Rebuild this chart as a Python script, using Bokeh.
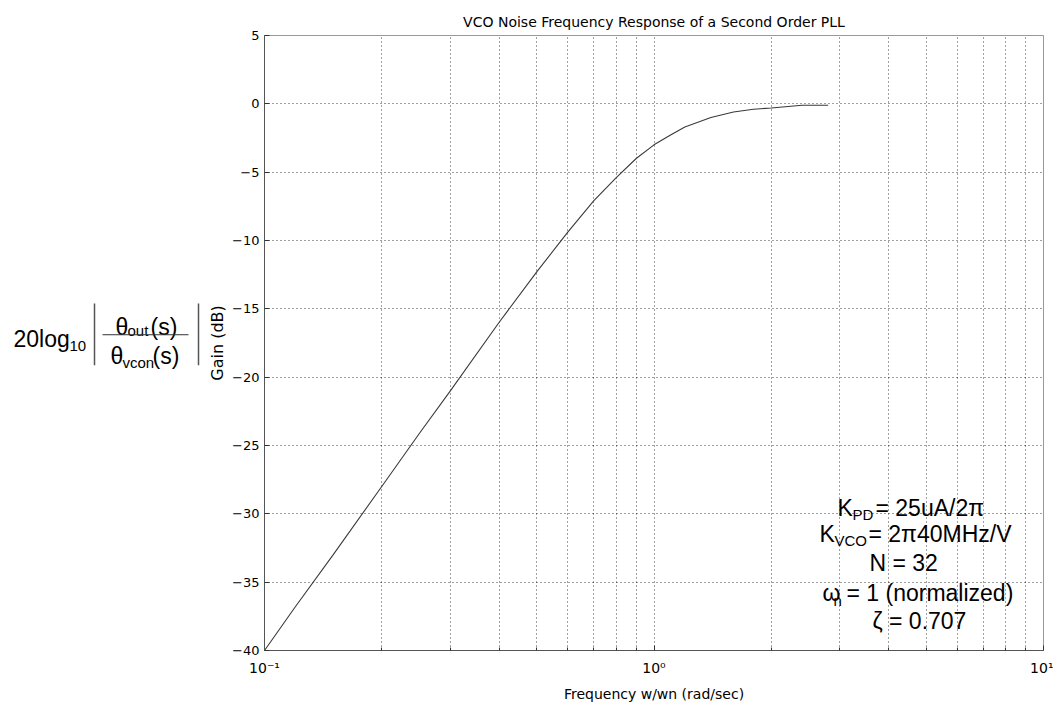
from bokeh.plotting import figure
from bokeh.models import FixedTicker, Range1d, Label, CustomJSTickFormatter
from bokeh.layouts import row
from bokeh.embed import file_html
from bokeh.resources import INLINE
from bokeh.core.properties import value

# ---------------- data ----------------
title_text = "VCO Noise Frequency Response of a Second Order PLL"
x_label = "Frequency w/wn (rad/sec)"
y_label = "Gain (dB)"

freq = [0.1, 0.12, 0.15, 0.2, 0.25, 0.3, 0.4, 0.5, 0.6, 0.7, 0.8, 0.9,
        1.0, 1.1, 1.2, 1.4, 1.6, 1.8, 2.0, 2.4, 2.8]
gain = [-40.0, -36.8, -33.0, -28.0, -24.1, -21.0, -16.0, -12.3, -9.4, -7.1, -5.4, -4.0,
        -3.0, -2.3, -1.7, -1.0, -0.6, -0.4, -0.3, -0.1, -0.1]

y_ticks = [-40, -35, -30, -25, -20, -15, -10, -5, 0, 5]
x_major = [0.1, 1, 10]
x_minor = [0.2, 0.3, 0.4, 0.5, 0.6, 0.7, 0.8, 0.9, 2, 3, 4, 5, 6, 7, 8, 9]
x_tick_labels = ["10\u207b\u00b9", "10\u2070", "10\u00b9"]

# ---------------- layout constants ----------------
LEFT_W = 205
MAIN_W = 848
H = 707
FRAME_L = 263   # page x of frame left
FRAME_B = 650   # page y of frame bottom

SMALL_FONT = "DejaVu Sans"
BIG_FONT = "Liberation Sans"

# ---------------- main figure ----------------
p = figure(width=MAIN_W, height=H, x_axis_type="log",
           x_range=Range1d(0.1, 10), y_range=Range1d(-40, 5),
           output_backend="svg", toolbar_location=None,
           min_border_left=58, min_border_right=10,
           min_border_top=35, min_border_bottom=57,
           title=title_text)
p.background_fill_color = "white"
p.border_fill_color = "white"
p.outline_line_color = "#999999"

p.title.text_font = SMALL_FONT
p.title.text_font_size = "14px"
p.title.text_font_style = "normal"
p.title.align = "center"
p.title.text_color = "black"
p.title.standoff = 12

p.line(freq, gain, line_color="#3a3a3a", line_width=1.1)

p.xaxis.ticker = FixedTicker(ticks=x_major, minor_ticks=x_minor)
p.yaxis.ticker = FixedTicker(ticks=y_ticks)

for g in (p.xgrid, p.ygrid):
    g.grid_line_color = "black"
    g.grid_line_dash = "1 3"
    g.grid_line_alpha = 0.75
    g.grid_line_width = 1
p.xgrid.minor_grid_line_color = "black"
p.xgrid.minor_grid_line_dash = "1 3"
p.xgrid.minor_grid_line_alpha = 0.75

p.axis.axis_line_color = "#555555"
p.axis.major_tick_line_color = "#333333"
p.axis.minor_tick_line_color = "#333333"
p.axis.major_tick_out = 0
p.axis.major_tick_in = 5
p.axis.minor_tick_out = 0
p.axis.minor_tick_in = 3
p.yaxis.minor_tick_in = 0

p.yaxis.major_label_text_font = SMALL_FONT
p.yaxis.major_label_text_font_size = "13px"
p.yaxis.major_label_text_color = "black"
p.yaxis.major_label_standoff = 5
p.yaxis.axis_label = y_label
p.yaxis.axis_label_text_font = SMALL_FONT
p.yaxis.axis_label_text_font_size = "16px"
p.yaxis.axis_label_text_font_style = "normal"
p.yaxis.axis_label_text_color = "black"
p.yaxis.axis_label_standoff = 2

labels_js = "const L = %r; const T = %r; for (let i = 0; i < T.length; i++) { if (Math.abs(T[i] - tick) < 1e-9 * Math.max(1, tick)) return L[i]; } return '';" % (
    x_tick_labels, x_major)
p.xaxis.formatter = CustomJSTickFormatter(code=labels_js)
p.xaxis.major_label_text_font = SMALL_FONT
p.xaxis.major_label_text_font_size = "14px"
p.xaxis.major_label_text_color = "black"
p.xaxis.major_label_standoff = 9
p.xaxis.axis_label = x_label
p.xaxis.axis_label_text_font = SMALL_FONT
p.xaxis.axis_label_text_font_size = "14px"
p.xaxis.axis_label_text_font_style = "normal"
p.xaxis.axis_label_text_color = "black"
p.xaxis.axis_label_standoff = 7


def put(px, py, txt, size):
    """place text with page pixel coordinates (baseline-left) relative to the frame"""
    p.add_layout(Label(x=px - FRAME_L, y=FRAME_B - py, x_units="screen", y_units="screen",
                       text=txt, text_align="left", text_baseline="alphabetic",
                       text_font=BIG_FONT, text_font_size=size, text_color="black"))


BIG = "23px"
SUB = "15px"
put(836, 507, "K", BIG)
put(851, 514, "PD", SUB)
put(874, 507, "= 25uA/2\u03c0", BIG)
put(818, 533, "K", BIG)
put(833, 540, "VCO", SUB)
put(867, 533, "= 2\u03c040MHz/V", BIG)
put(868, 562, "N = 32", BIG)
put(821, 592, "\u03c9", BIG)
put(832, 600, "n", SUB)
put(845, 592, "= 1 (normalized)", BIG)
put(871, 620, "\u03b6 = 0.707", BIG)

# ---------------- left formula figure ----------------
f = figure(width=LEFT_W, height=H, x_range=Range1d(0, LEFT_W), y_range=Range1d(H, 0),
           output_backend="svg", toolbar_location=None, min_border=0,
           x_axis_location=None, y_axis_location=None)
f.outline_line_color = None
f.grid.visible = False
f.background_fill_color = "white"
f.border_fill_color = "white"


def ftxt(px, py, txt, size):
    f.text(x=[px], y=[py], text=[txt], text_align="left",
           text_baseline="alphabetic", text_font=value(BIG_FONT),
           text_font_size=size, text_color="black")


ftxt(13, 349, "20log", BIG)
ftxt(69, 357, "10", SUB)
ftxt(115, 335, "\u03b8", BIG)
ftxt(127, 339, "out", SUB)
ftxt(150, 335, "(s)", BIG)
ftxt(110, 368, "\u03b8", BIG)
ftxt(122, 376, "vcon", SUB)
ftxt(152, 368, "(s)", BIG)
f.segment(x0=[94, 198], y0=[308, 308], x1=[94, 198], y1=[379, 379],
          line_color="#555555", line_width=1.5)
f.segment(x0=[102], y0=[344], x1=[188], y1=[344], line_color="#333333", line_width=1)

layout = row(f, p)
open("out.html", "w").write(file_html(layout, INLINE))
